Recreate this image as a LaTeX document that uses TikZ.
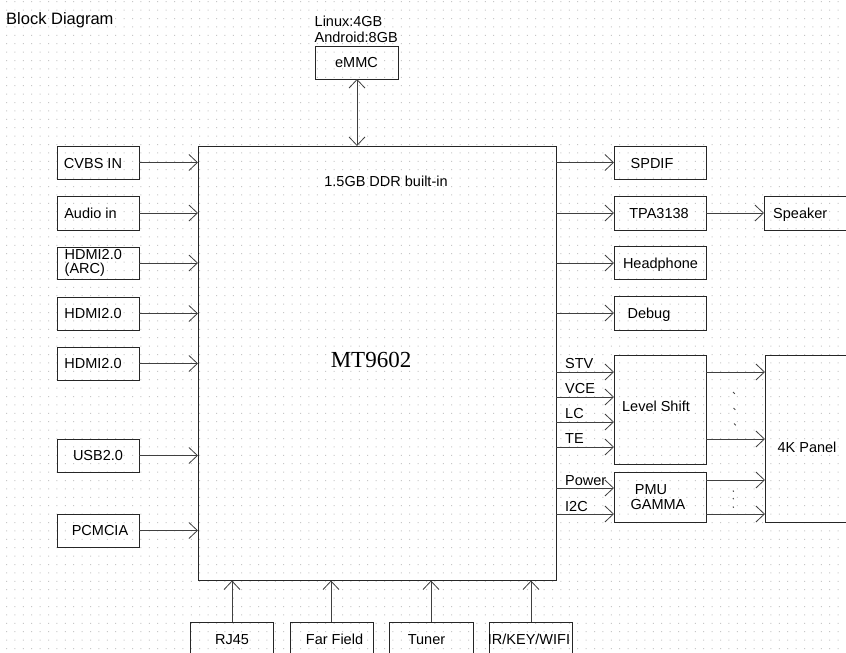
\documentclass[tikz,border=0pt]{standalone}
\usepackage{fontspec}
\setmainfont{Liberation Sans}
\newfontfamily\mtserif{Liberation Serif}
\usetikzlibrary{arrows.meta}
\begin{document}
\begin{tikzpicture}[x=1pt,y=-1pt,
  bx/.style 2 args={draw=black!85, line width=1pt, minimum width=#1, minimum height=#2, inner sep=0pt, outer sep=0pt},
  lbl/.style={inner sep=0pt, anchor=base, yshift=-5.2pt, font=\fontsize{14.5}{16}\selectfont},
  lblw/.style={inner sep=0pt, anchor=base west, yshift=-5.2pt, font=\fontsize{14.5}{16}\selectfont},
  arr/.style={draw=black!75, line width=1pt, -{Straight Barb[length=8.5pt,width=16pt,line width=0.8pt]}},
  darr/.style={draw=black!75, line width=1pt, {Straight Barb[length=8.5pt,width=16pt,line width=0.8pt]}-{Straight Barb[length=8.5pt,width=16pt,line width=0.8pt]}},
  tick/.style={draw=black!70, line width=1pt}
]
\useasboundingbox (0,0) rectangle (846,653);
\fill[white] (0,0) rectangle (846,653);
% dotted grid
\foreach \j in {0,...,77}{
  \fill[black!22] foreach \i in {0,...,100} {(6+8.4*\i,1.2+8.4*\j) rectangle ++(1,1)};
}

% title
\node[inner sep=0pt, anchor=base west, font=\fontsize{16.5}{18}\selectfont] (title) at (6,24) {Block Diagram};

% main chip
\node[bx={358}{434.5}] (main) at (377,363.25) {};
\node[lbl] (ddr) at (386,181) {1.5GB DDR built-in};
\node[inner sep=0pt, anchor=base, font=\mtserif\fontsize{23}{25}\selectfont] (mt) at (371,367) {MT9602};

% eMMC
\node[bx={83}{33}, font=\fontsize{14.5}{16}\selectfont] (emmc) at (356.5,62.5) {eMMC};
\node[inner sep=0pt, anchor=west, align=left, font=\fontsize{14.5}{16}\selectfont] (emmcnote) at (314.5,29) {Linux:4GB\\Android:8GB};
\draw[darr] (emmc.south -| 357,0) -- (main.north -| 357,0);

% left inputs
\node[bx={82}{33}] (cvbs) at (98,162.5) {};
\node[bx={82}{34}] (audio) at (98,213) {};
\node[bx={82}{32}] (arc) at (98,263) {};
\node[bx={82}{33}] (hdmia) at (98,313.5) {};
\node[bx={82}{33}] (hdmib) at (98,363.5) {};
\node[bx={82}{33}] (usb) at (98,455.5) {};
\node[bx={82}{33}] (pcm) at (98,530.5) {};
\node[lbl] (tcvbs) at (93,163) {CVBS IN};
\node[lbl] (taudio) at (90.5,213) {Audio in};
\node[inner sep=0pt, anchor=west, align=left, font=\fontsize{14.5}{14}\selectfont] (tarc) at (64.5,263) {HDMI2.0\\(ARC)};
\node[lbl] (thdmia) at (93,313.5) {HDMI2.0};
\node[lbl] (thdmib) at (93,363.5) {HDMI2.0};
\node[lbl] (tusb) at (98,455.5) {USB2.0};
\node[lbl] (tpcm) at (100,530.5) {PCMCIA};
\foreach \n in {cvbs,audio,arc,hdmia,hdmib,usb,pcm}
  \draw[arr] (\n.east) -- (\n.east -| main.west);

% right outputs
\node[bx={92}{33}] (spdif) at (660,162.5) {};
\node[bx={92}{34}] (tpa) at (660,213) {};
\node[bx={92}{33}] (head) at (660,263) {};
\node[bx={92}{34}] (debug) at (660,313) {};
\node[bx={92}{34}] (spk) at (810,213) {};
\node[lbl] (tspdif) at (652,163) {SPDIF};
\node[lbl] (ttpa) at (659,213) {TPA3138};
\node[lbl] (thead) at (660.5,263) {Headphone};
\node[lbl] (tdebug) at (649,313) {Debug};
\node[lblw] (tspk) at (773,213) {Speaker};
\foreach \n in {spdif,tpa,head,debug}
  \draw[arr] (\n.west -| main.east) -- (\n.west);
\draw[arr] (tpa.east) -- (spk.west);

% level shift / PMU / panel
\node[bx={92}{109}] (ls) at (660,409.5) {};
\node[bx={92}{50}] (pmu) at (660,497) {};
\node[bx={92}{167}] (panel) at (811,438.5) {};
\node[lbl] (tls) at (656,406) {Level Shift};
\node[lbl] (tpmu) at (651,489) {PMU};
\node[lbl] (tgamma) at (658,504) {GAMMA};
\node[lbl] (tpanel) at (807,447) {4K Panel};

\foreach \y in {372,397,422,447}
  \draw[arr] (main.east |- 0,\y) -- (ls.west |- 0,\y);
\foreach \y in {488,514}
  \draw[arr] (main.east |- 0,\y) -- (pmu.west |- 0,\y);
\node[lblw] (tstv) at (565,363) {STV};
\node[lblw] (tvce) at (565,388) {VCE};
\node[lblw] (tlc) at (565,413) {LC};
\node[lblw] (tte) at (565,438.5) {TE};
\node[lblw] (tpow) at (565,480) {Power};
\node[lblw] (ti2c) at (565,506) {I2C};

\foreach \y in {372,439}
  \draw[arr] (ls.east |- 0,\y) -- (panel.west |- 0,\y);
\foreach \y in {480,514}
  \draw[arr] (pmu.east |- 0,\y) -- (panel.west |- 0,\y);
% ellipsis marks
\foreach \x/\y in {733/392,733.5/408,734/423.5}
  \draw[tick] (\x,\y) -- ++(1.8,1.8);
\foreach \x/\y in {733/490.5,733/498,733/506.5}
  \draw[tick] (\x,\y) -- ++(0.6,1.2);

% bottom inputs
\node[bx={83}{40}] (rj) at (231.5,642) {};
\node[bx={83}{40}] (far) at (331.5,642) {};
\node[bx={84}{40}] (tuner) at (431,642) {};
\node[bx={83}{40}] (ir) at (530.5,642) {};
\node[lbl] (trj) at (232,639) {RJ45};
\node[lbl] (tfar) at (334.5,639) {Far Field};
\node[lbl] (ttuner) at (426.5,639) {Tuner};
\node[lbl] (tir) at (529,639) {IR/KEY/WIFI};
\draw[arr] (rj.north -| 232,0) -- (main.south -| 232,0);
\draw[arr] (far.north -| 331,0) -- (main.south -| 331,0);
\draw[arr] (tuner.north -| 431,0) -- (main.south -| 431,0);
\draw[arr] (ir.north -| 531,0) -- (main.south -| 531,0);
\end{tikzpicture}
\end{document}
